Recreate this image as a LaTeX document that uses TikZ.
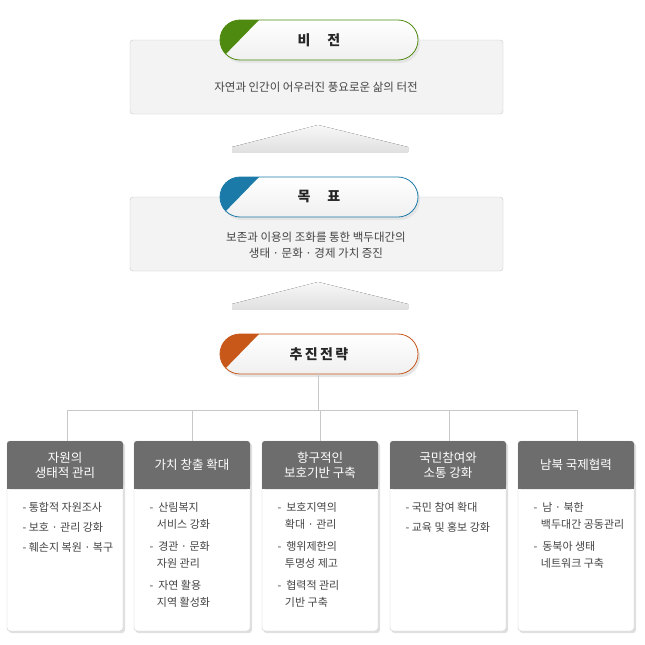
\documentclass[tikz,border=0pt]{standalone}
\usepackage{fontspec}
\setmainfont{Noto Sans CJK KR}
\usetikzlibrary{positioning}
\definecolor{boxgray}{HTML}{F3F3F3}
\definecolor{linegray}{HTML}{C8C8C8}
\definecolor{headgray}{HTML}{6D6D6D}
\definecolor{txtgray}{HTML}{444444}
\definecolor{visgreen}{HTML}{4F8A10}
\definecolor{goalblue}{HTML}{1C7AA8}
\definecolor{stratorange}{HTML}{C8581A}
\tikzset{
  panel/.style={draw=linegray, fill=boxgray, rounded corners=3pt},
  pill/.style={draw=#1, line width=0.8pt, rounded corners=20pt, top color=white, bottom color=black!6},
  pilltext/.style={font=\fontsize{14}{16}\selectfont\bfseries, text=black!85},
  subtext/.style={font=\fontsize{11.5}{16}\selectfont, text=txtgray, align=center},
  upflat/.style={top color=black!3, bottom color=black!12, draw=none},
  headbox/.style={fill=headgray, rounded corners=3pt},
  headtext/.style={font=\fontsize{12.5}{15}\selectfont, text=white, align=center},
  itemtext/.style={font=\fontsize{11}{19}\selectfont, text=txtgray, align=left, anchor=north west},
  tree/.style={draw=linegray, line width=0.7pt}
}
\newcommand{\pillat}[3]{% y top, colour, text
  \fill[black!10, rounded corners=20pt] (222,#1+3) rectangle (420,#1+43);
  \draw[pill=#2] (220,#1) rectangle (418,#1+40);
  \begin{scope}
    \clip[rounded corners=20pt] (220,#1) rectangle (418,#1+40);
    \fill[#2] (220,#1) -- (259,#1) -- (220,#1+40) -- cycle;
  \end{scope}
}
\begin{document}
\begin{tikzpicture}[x=1pt,y=-1pt]
  \useasboundingbox[fill=white] (0,0) rectangle (645,645);

  % vision
  \draw[panel] (130,40) rectangle (503,114);
  \pillat{20}{visgreen}{}
  \node[pilltext] (vision) at (319,40) {비\hspace{1.2em}전};
  \node[subtext] (visiontxt) at (316,87) {자연과 인간이 어우러진 풍요로운 삶의 터전};
  \fill[upflat] (232,152) -- (232,147) -- (318,125) -- (408,147) -- (408,152) -- cycle;

  % goal
  \draw[panel] (130,197) rectangle (503,271);
  \pillat{177}{goalblue}{}
  \node[pilltext] (goal) at (319,197) {목\hspace{1.2em}표};
  \node[subtext] (goaltxt) at (316,245) {보존과 이용의 조화를 통한 백두대간의\\생태 · 문화 · 경제 가치 증진};
  \fill[upflat] (232,309) -- (232,304) -- (318,282) -- (408,304) -- (408,309) -- cycle;

  % strategy
  \pillat{334}{stratorange}{}
  \node[pilltext] (strategy) at (319,354) {추\,진\,전\,략};
  \coordinate (hub) at (318,410);
  \draw[tree] (318,374) -- (hub);
  \draw[tree] (67,441) |- (577,410) -- (577,441);

  % strategy boxes
  \foreach \x/\cx/\head/\items in {
      7/67/{자원의\\생태적 관리}/{- 통합적 자원조사\\[1pt]- 보호 · 관리 강화\\[1pt]- 훼손지 복원 · 복구},
      134/192/{가치 창출 확대}/{- \ 산림복지\\[-2pt]\ \ \ 서비스 강화\\[3pt]- \ 경관 · 문화\\[-2pt]\ \ \ 자원 관리\\[3pt]- \ 자연 활용\\[-2pt]\ \ \ 지역 활성화},
      262/320/{항구적인\\보호기반 구축}/{- \ 보호지역의\\[-2pt]\ \ \ 확대 · 관리\\[3pt]- \ 행위제한의\\[-2pt]\ \ \ 투명성 제고\\[3pt]- \ 협력적 관리\\[-2pt]\ \ \ 기반 구축},
      390/449/{국민참여와\\소통 강화}/{- 국민 참여 확대\\[1pt]- 교육 및 홍보 강화},
      518/577/{남북 국제협력}/{- \ 남 · 북한\\[-2pt]\ \ \ 백두대간 공동관리\\[3pt]- \ 동북아 생태\\[-2pt]\ \ \ 네트워크 구축}} {
    \draw[tree] (\cx,410) -- (\cx,441);
    \fill[black!12, rounded corners=3pt] (\x+1.5,443) rectangle (\x+118,633);
    \draw[draw=linegray, fill=white, rounded corners=3pt] (\x,441) rectangle (\x+116,631);
    \fill[headbox] (\x,441) rectangle (\x+116,489);
    \fill[headgray] (\x,480) rectangle (\x+116,489);
    \node[headtext] (head\cx) at (\x+58,465) {\head};
    \node[itemtext] (items\cx) at (\x+12,499) {\items};
  }
\end{tikzpicture}
\end{document}
